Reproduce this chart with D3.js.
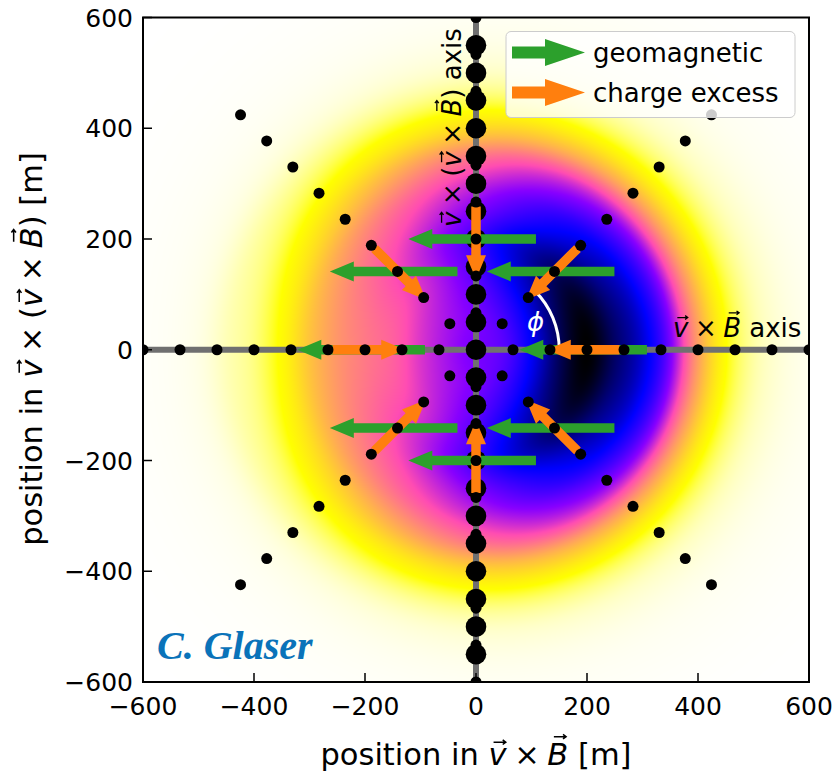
<!DOCTYPE html>
<html><head><meta charset="utf-8">
<script src="https://cdn.jsdelivr.net/npm/d3@7"></script>
<style>body{margin:0;background:#fff} svg{display:block}</style>
</head><body>
<svg id="chart" width="838" height="779"></svg>
<script>
// ---------------- data ----------------
const xTicks = [-600, -400, -200, 0, 200, 400, 600];
const yTicks = [-600, -400, -200, 0, 200, 400, 600];
// star-shaped antenna layout (radius in m, azimuth in deg)
const starRadii = [66.7, 133.3, 200, 266.7, 333.3, 400, 466.7, 533.3, 600];
const starAngles = [0, 45, 90, 135, 180, 225, 270, 315];
// dense antenna line along the v x (v x B) axis
const denseY = [-550,-500,-450,-400,-350,-300,-250,-200,-150,-100,-50,0,50,100,150,200,250,300,350,400,450,500,550];
// polarisation arrows
const arrowRadius = 200;
const arrowAngles = [0, 45, 90, 135, 180, 225, 270, 315];
const geomagneticLength = 230;
const chargeExcessLength = 131;
// radial emission profiles (geomagnetic / charge excess amplitude)
const profileR   = [0, 50, 100, 150, 200, 250, 300, 350, 400, 450, 500, 550, 600, 650, 700, 750, 800, 850, 900];
const profileGeo = [0.775, 0.77, 0.78, 0.79, 0.7925, 0.7425, 0.6675, 0.5375, 0.36, 0.22, 0.13, 0.085, 0.06, 0.045, 0.033, 0.023, 0.015, 0.008, 0.004];
const profileCE  = [0, 0.03, 0.09, 0.165, 0.2075, 0.2075, 0.2225, 0.2375, 0.16, 0.07, 0.04, 0.025, 0.015, 0.012, 0.009, 0.006, 0.004, 0.002, 0.001];
const legendLabels = ["geomagnetic", "charge excess"];

// ---------------- setup ----------------
const svg = d3.select("#chart");
const L = 143, R = 809, T = 17.5, B = 682;
const xs = d3.scaleLinear().domain([-600, 600]).range([L, R]);
const ys = d3.scaleLinear().domain([-600, 600]).range([B, T]);
const GREEN = "#2ca02c", ORANGE = "#ff7f0e";
const FONT = "'DejaVu Sans', sans-serif";
const SP = "\u2005";

svg.append("defs").append("clipPath").attr("id", "plotclip")
  .append("rect").attr("x", L).attr("y", T).attr("width", R - L).attr("height", B - T);

// gnuplot2 colormap
function gnuplot2(t) {
  const cl = v => Math.max(0, Math.min(1, v));
  const r = cl(t / 0.32 - 0.78125);
  const g = cl(2 * t - 0.84);
  let b;
  if (t < 0.25) b = 4 * t; else if (t < 0.92) b = -2 * t + 1.84; else b = t / 0.08 - 11.5;
  b = cl(b);
  return [r * 255, g * 255, b * 255];
}
function interp(arr, r) {
  const step = profileR[1] - profileR[0];
  const n = arr.length;
  const s = r / step;
  const i = Math.floor(s);
  if (i >= n - 1) return arr[n - 1];
  const f = s - i;
  const p0 = arr[Math.max(i - 1, 0)], p1 = arr[i], p2 = arr[i + 1], p3 = arr[Math.min(i + 2, n - 1)];
  const v = 0.5 * (2 * p1 + (-p0 + p2) * f + (2 * p0 - 5 * p1 + 4 * p2 - p3) * f * f + (-p0 + 3 * p1 - 3 * p2 + p3) * f * f * f);
  return Math.max(0, v);
}

// ---------------- heatmap ----------------
const W = Math.round(R - L), H = Math.round(B - T);
const vals = new Float32Array(W * H);
let vmax = 0;
for (let j = 0; j < H; j++) {
  const yv = ys.invert(T + j + 0.5);
  for (let i = 0; i < W; i++) {
    const xv = xs.invert(L + i + 0.5);
    const r = Math.hypot(xv, yv);
    const c = r > 0 ? xv / r : 0;
    const G = interp(profileGeo, r), C = interp(profileCE, r);
    const v = G * G + C * C + 2 * G * C * c;
    vals[j * W + i] = v;
    if (v > vmax) vmax = v;
  }
}
const canvas = document.createElement("canvas");
canvas.width = W; canvas.height = H;
const ctx = canvas.getContext("2d");
const img = ctx.createImageData(W, H);
for (let k = 0; k < W * H; k++) {
  const col = gnuplot2(1 - vals[k] / vmax);
  img.data[4 * k] = col[0]; img.data[4 * k + 1] = col[1]; img.data[4 * k + 2] = col[2]; img.data[4 * k + 3] = 255;
}
ctx.putImageData(img, 0, 0);
const plot = svg.append("g").attr("clip-path", "url(#plotclip)");
plot.append("image").attr("x", L).attr("y", T).attr("width", W).attr("height", H)
  .attr("preserveAspectRatio", "none").attr("href", canvas.toDataURL());

// ---------------- axis lines ----------------
plot.append("line").attr("x1", xs(-600)).attr("x2", xs(600)).attr("y1", ys(0)).attr("y2", ys(0))
  .attr("stroke", "#707070").attr("stroke-width", 6);
plot.append("line").attr("x1", xs(0)).attr("x2", xs(0)).attr("y1", ys(-600)).attr("y2", ys(600))
  .attr("stroke", "#707070").attr("stroke-width", 6);

// phi arc (r = 150 m, 0..45 deg)
const arcR = xs(150) - xs(0);
const arcPath = d3.path();
arcPath.arc(xs(0), ys(0), arcR, 0, -Math.PI / 4, true);
plot.append("path").attr("d", arcPath.toString()).attr("fill", "none").attr("stroke", "white").attr("stroke-width", 3);

// big dots
plot.selectAll("circle.big").data(denseY).join("circle").attr("class", "big")
  .attr("cx", xs(0)).attr("cy", d => ys(d)).attr("r", 10.3).attr("fill", "black");

// arrows
function arrowPoints(x0, y0, x1, y1, sw, hw, hl) {
  const dx = x1 - x0, dy = y1 - y0, len = Math.hypot(dx, dy);
  const ux = dx / len, uy = dy / len, nx = -uy, ny = ux;
  const bx = x1 - ux * hl, by = y1 - uy * hl;
  const pts = [
    [x0 + nx * sw / 2, y0 + ny * sw / 2], [bx + nx * sw / 2, by + ny * sw / 2], [bx + nx * hw / 2, by + ny * hw / 2],
    [x1, y1], [bx - nx * hw / 2, by - ny * hw / 2], [bx - nx * sw / 2, by - ny * sw / 2], [x0 - nx * sw / 2, y0 - ny * sw / 2]
  ];
  return pts.map(p => p.join(",")).join(" ");
}
const shift = 7;
const arrowData = arrowAngles.map(a => {
  const ar = a * Math.PI / 180;
  return { x: arrowRadius * Math.cos(ar), y: arrowRadius * Math.sin(ar), ux: Math.cos(ar), uy: Math.sin(ar) };
});
plot.selectAll("polygon.geo").data(arrowData).join("polygon").attr("class", "geo")
  .attr("points", d => arrowPoints(xs(d.x + (geomagneticLength / 2 - shift)), ys(d.y),
                                   xs(d.x - (geomagneticLength / 2 + shift)), ys(d.y), 9.5, 20, 24))
  .attr("fill", GREEN);
plot.selectAll("polygon.ce").data(arrowData).join("polygon").attr("class", "ce")
  .attr("points", d => arrowPoints(
      xs(d.x + d.ux * (chargeExcessLength / 2 - shift)), ys(d.y + d.uy * (chargeExcessLength / 2 - shift)),
      xs(d.x - d.ux * (chargeExcessLength / 2 + shift)), ys(d.y - d.uy * (chargeExcessLength / 2 + shift)), 9.5, 20, 24))
  .attr("fill", ORANGE);

// small star dots
const star = [];
starAngles.forEach(a => starRadii.forEach(r => star.push({ x: r * Math.cos(a * Math.PI / 180), y: r * Math.sin(a * Math.PI / 180) })));
plot.selectAll("circle.small").data(star).join("circle").attr("class", "small")
  .attr("cx", d => xs(d.x)).attr("cy", d => ys(d.y)).attr("r", 5.5).attr("fill", "black");

// ---------------- math text helper ----------------
function mathText(parent, parts, x, y, fs, anchor, color) {
  const t = parent.append("text").attr("x", x).attr("y", y).attr("text-anchor", anchor)
    .style("font-family", FONT).style("font-size", fs + "px").attr("fill", color);
  let idx = 0; const vecs = [];
  parts.forEach(p => {
    const ts = t.append("tspan").text(p.t);
    if (p.it) ts.style("font-style", "italic");
    if (p.vec) vecs.push({ i: idx, h: p.h });
    idx += p.t.length;
  });
  vecs.forEach(v => {
    const e = t.node().getExtentOfChar(v.i);
    const cx = e.x + e.width / 2 + 0.07 * fs;
    const yy = y - v.h * fs - 0.2 * fs;
    const half = 0.2 * fs, hs = 0.1 * fs;
    parent.append("path")
      .attr("d", `M${cx - half},${yy}L${cx + half},${yy}M${cx + half - hs},${yy - hs * 0.75}L${cx + half},${yy}L${cx + half - hs},${yy + hs * 0.75}`)
      .attr("fill", "none").attr("stroke", color).attr("stroke-width", Math.max(1.2, fs * 0.05));
  });
  return t;
}
const vv = { t: "v", it: true, vec: true, h: 0.547 };
const BB = { t: "B", it: true, vec: true, h: 0.729 };
const times = { t: SP + "×" + SP };

// in-plot axis annotations
mathText(svg.append("g"), [vv, times, BB, { t: " axis" }], 673, 337, 26, "start", "black");
mathText(svg.append("g").attr("transform", "translate(461,227) rotate(-90)"),
  [vv, { t: SP + "×" + SP + "(" }, vv, times, BB, { t: ") axis" }], 0, 0, 26, "start", "black");
svg.append("text").attr("x", 527).attr("y", 331).text("ϕ").style("font-family", FONT)
  .style("font-size", "26px").style("font-style", "italic").attr("fill", "white");

// ---------------- legend ----------------
const lg = svg.append("g");
lg.append("rect").attr("x", 506).attr("y", 31.5).attr("width", 289).attr("height", 86).attr("rx", 5)
  .attr("fill", "white").attr("fill-opacity", 0.8).attr("stroke", "#cccccc").attr("stroke-width", 1);
[GREEN, ORANGE].forEach((c, i) => {
  const yy = 52.5 + i * 40;
  lg.append("polygon").attr("points", arrowPoints(512, yy, 585, yy, 12, 27, 40)).attr("fill", c);
  lg.append("text").attr("x", 593).attr("y", yy + 9).text(legendLabels[i])
    .style("font-family", FONT).style("font-size", "26px").attr("fill", "black");
});

// watermark
svg.append("text").attr("x", 157).attr("y", 659).text("C. Glaser")
  .style("font-family", "'Liberation Serif', 'Times New Roman', serif").style("font-weight", "bold")
  .style("font-style", "italic").style("font-size", "40px").attr("fill", "rgb(10,115,185)");

// ---------------- frame, ticks, labels ----------------
svg.append("rect").attr("x", L).attr("y", T).attr("width", R - L).attr("height", B - T)
  .attr("fill", "none").attr("stroke", "black").attr("stroke-width", 2);
const fmt = v => (v < 0 ? "\u2212" + Math.abs(v) : String(v));
xTicks.forEach(v => {
  svg.append("line").attr("x1", xs(v)).attr("x2", xs(v)).attr("y1", B).attr("y2", B - 9).attr("stroke", "black").attr("stroke-width", 1.5);
  svg.append("text").attr("x", xs(v)).attr("y", 715).attr("text-anchor", "middle").text(fmt(v))
    .style("font-family", FONT).style("font-size", "25px");
});
yTicks.forEach(v => {
  svg.append("line").attr("x1", L).attr("x2", L + 9).attr("y1", ys(v)).attr("y2", ys(v)).attr("stroke", "black").attr("stroke-width", 1.5);
  svg.append("text").attr("x", 133).attr("y", ys(v) + 9).attr("text-anchor", "end").text(fmt(v))
    .style("font-family", FONT).style("font-size", "25px");
});
mathText(svg.append("g"), [{ t: "position in " }, vv, times, BB, { t: " [m]" }], 476, 765, 30.5, "middle", "black");
mathText(svg.append("g").attr("transform", "translate(42,349) rotate(-90)"),
  [{ t: "position in " }, vv, { t: SP + "×" + SP + "(" }, vv, times, BB, { t: ") [m]" }], 0, 0, 30.5, "middle", "black");
</script>
</body></html>
